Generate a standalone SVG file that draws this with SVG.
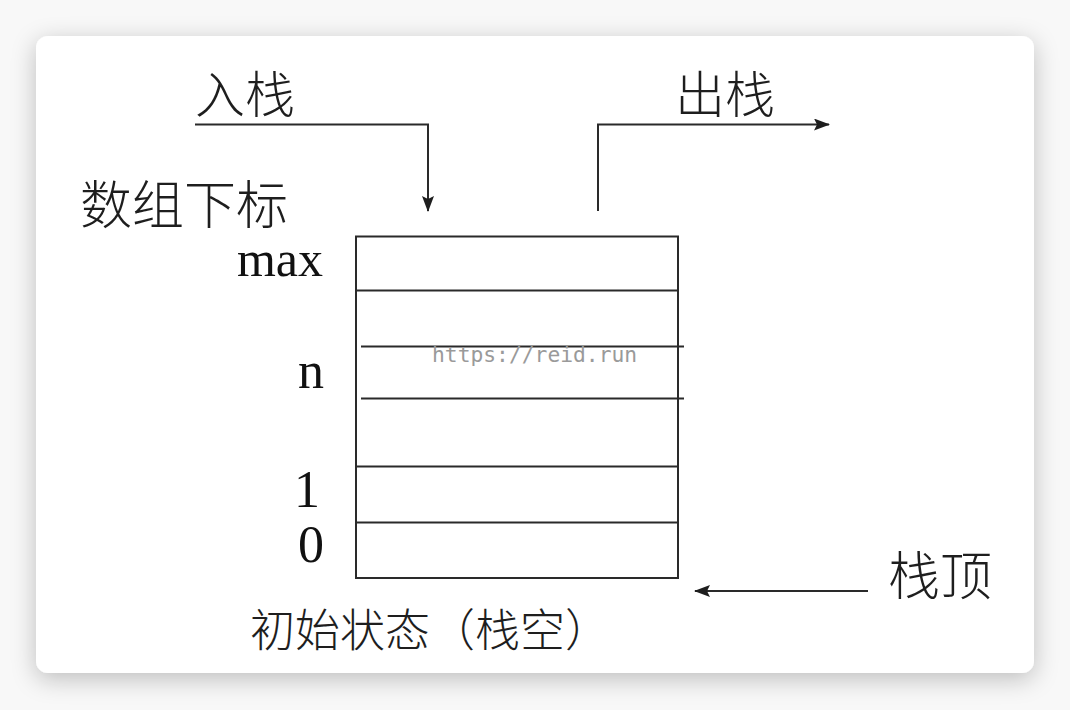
<svg xmlns="http://www.w3.org/2000/svg" width="1070" height="710" viewBox="0 0 1070 710">
<style>
.cjk{font-family:"Noto Sans CJK SC","Noto Sans",sans-serif;font-weight:300;fill:#1e1e1e}
.lat{font-family:"Liberation Serif","Times New Roman",serif;fill:#111;text-anchor:end}
.ln{stroke:#2a2a2a;stroke-width:2;fill:none}
.wm{font-family:"DejaVu Sans Mono","Liberation Mono",monospace;fill:#9a9a9a;font-size:21.3px}
</style>
<defs>
<filter id="sh" x="-10%" y="-10%" width="120%" height="125%">
<feDropShadow dx="0" dy="6" stdDeviation="12" flood-color="#000" flood-opacity="0.24"/>
</filter>
<marker id="ah" markerUnits="userSpaceOnUse" markerWidth="16" markerHeight="12" refX="15" refY="6" orient="auto">
<path d="M0,0 L16,6 L0,12 L3,6 Z" fill="#1e1e1e"/>
</marker>
</defs>
<rect x="0" y="0" width="1070" height="710" fill="#f8f8f8"/>
<rect x="36" y="36" width="998" height="637" rx="12" fill="#fff" filter="url(#sh)"/>
<g id="stack">
<rect class="ln" x="356" y="236.5" width="322" height="341.5"/>
<line class="ln" x1="356" y1="290.5" x2="678" y2="290.5"/>
<line class="ln" x1="361" y1="346.5" x2="684" y2="346.5"/>
<line class="ln" x1="361" y1="398.5" x2="684" y2="398.5"/>
<line class="ln" x1="356" y1="466.5" x2="678" y2="466.5"/>
<line class="ln" x1="356" y1="522.5" x2="678" y2="522.5"/>
</g>
<g id="connectors">
<path class="ln" d="M195,124.5 H428 V211" marker-end="url(#ah)"/>
<path class="ln" d="M598,211 V124.5 H829" marker-end="url(#ah)"/>
<path class="ln" d="M868,591 H695" marker-end="url(#ah)"/>
</g>
<g id="labels">
<text class="cjk" x="195" y="113" font-size="50">入栈</text>
<text class="cjk" x="675" y="113" font-size="50">出栈</text>
<text class="cjk" x="80" y="224" font-size="52">数组下标</text>
<text class="cjk" x="888" y="595" font-size="52">栈顶</text>
<text class="cjk" x="250" y="647" font-size="45">初始状态（栈空）</text>
<text class="lat" x="323" y="276" font-size="50">max</text>
<text class="lat" x="324" y="388" font-size="52">n</text>
<text class="lat" x="320" y="507" font-size="52">1</text>
<text class="lat" x="324" y="562" font-size="52">0</text>
</g>
<text class="wm" x="432" y="362">https://reid.run</text>
</svg>
